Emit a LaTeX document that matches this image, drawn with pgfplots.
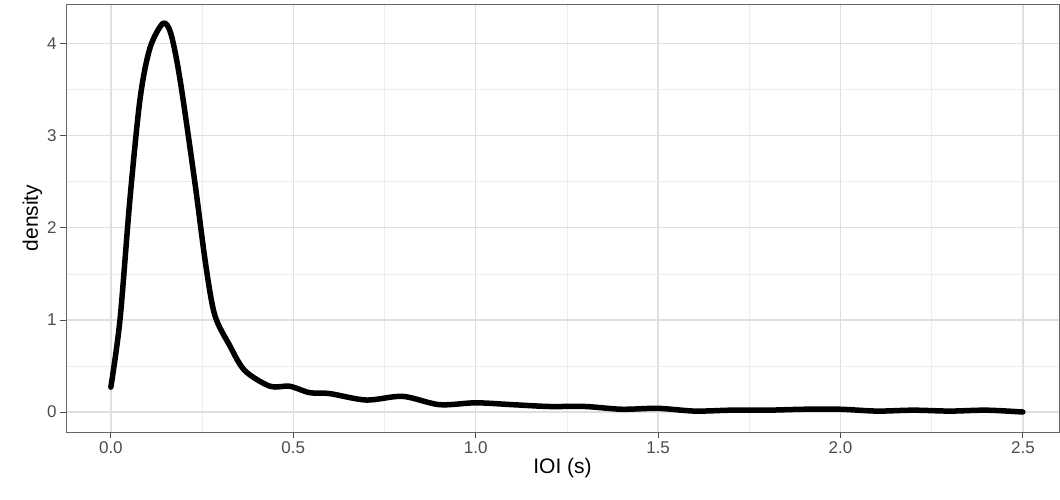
\documentclass[border=0pt]{standalone}
\usepackage{pgfplots}
\pgfplotsset{compat=1.18}
\usepackage{fontspec}
\setmainfont{Liberation Sans}
\definecolor{tk}{gray}{0.3}
\begin{document}
\begin{tikzpicture}
\useasboundingbox (-66pt,-67pt) rectangle (994pt,432pt);
\begin{axis}[scale only axis, width=993pt, height=428pt, at={(0,0)},
 xmin=-0.123, xmax=2.599, ymin=-0.217, ymax=4.43,
 xtick={0,0.5,...,2.5}, ytick={0,1,2,3,4},
 minor xtick={0.25,0.75,...,2.25}, minor ytick={0.5,1.5,2.5,3.5},
 xticklabels={0.0,0.5,1.0,1.5,2.0,2.5},
 tick pos=left,
 grid=both, major grid style={gray!25,line width=1.3pt}, minor grid style={gray!15,line width=0.7pt},
 axis line style={gray!80!black,line width=0.7pt},
 tick style={gray!60!black,line width=0.8pt}, tick align=outside, major tick length=6pt, minor tick length=0pt,
 ticklabel style={font=\fontsize{17}{20}\selectfont, text=tk},
 /pgf/number format/assume math mode=true,
 label style={font=\fontsize{21}{24}\selectfont},
 xlabel={IOI (s)}, ylabel={density},
 xlabel style={yshift=2pt}, ylabel style={yshift=-2pt}]
\addplot[black, line width=5.5pt, smooth, line join=round, line cap=round] coordinates {
(0,0.27)(0.025,1.0)(0.052,2.3)(0.08,3.4)(0.107,3.95)(0.143,4.22)(0.165,4.1)(0.19,3.6)(0.23,2.5)(0.26,1.6)(0.285,1.05)(0.326,0.72)(0.367,0.45)(0.436,0.28)(0.49,0.28)(0.545,0.21)(0.6,0.2)(0.7,0.13)(0.8,0.17)(0.9,0.08)(1.0,0.1)(1.1,0.08)(1.2,0.06)(1.3,0.06)(1.4,0.03)(1.5,0.04)(1.6,0.01)(1.7,0.02)(1.8,0.02)(1.9,0.03)(2.0,0.03)(2.1,0.01)(2.2,0.02)(2.3,0.01)(2.4,0.02)(2.5,0.0)};
\end{axis}
\end{tikzpicture}
\end{document}
